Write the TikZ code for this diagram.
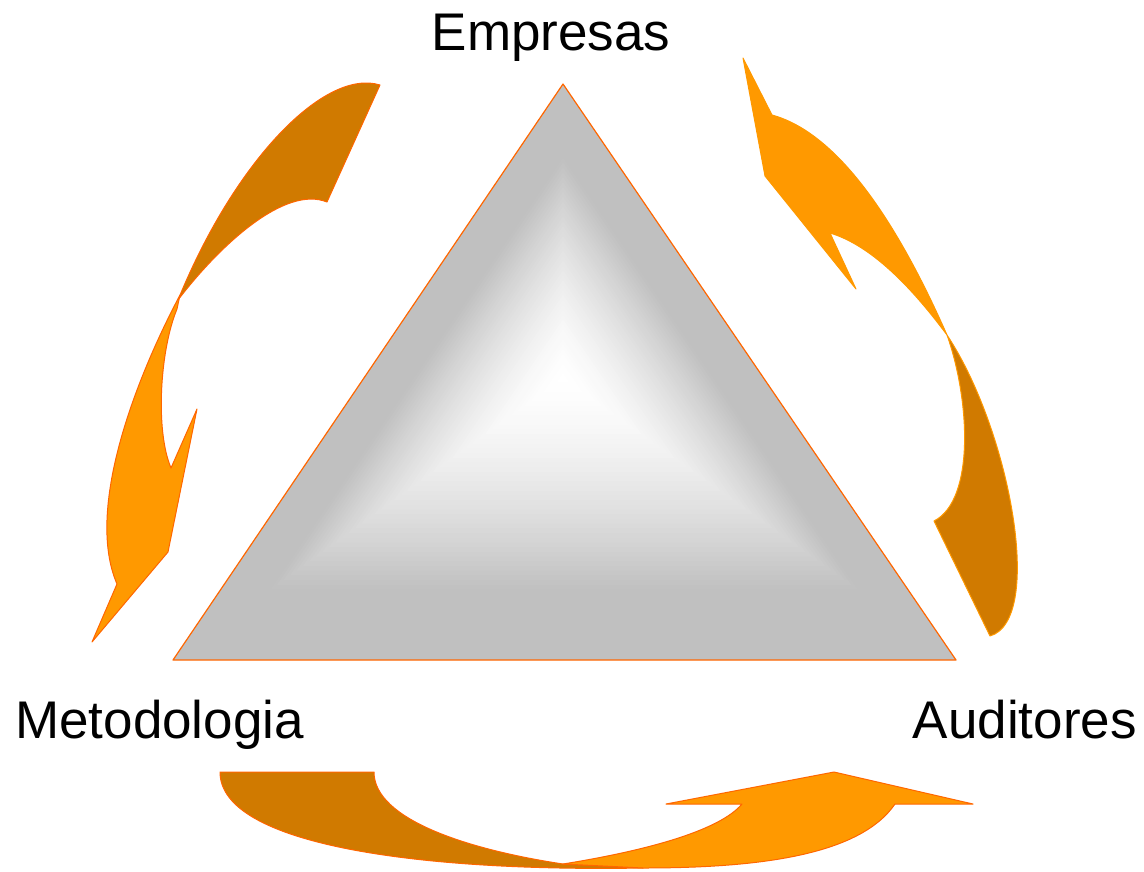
\documentclass[tikz,border=0pt]{standalone}
\usepackage{fontspec}
\setmainfont{Liberation Sans}
\usetikzlibrary{calc}
\definecolor{trig}{RGB}{192,192,192}
\definecolor{edgeor}{RGB}{255,102,0}
\definecolor{lightor}{RGB}{255,153,0}
\definecolor{darkor}{RGB}{208,122,0}
\begin{document}
\begin{tikzpicture}[x=1pt,y=-1pt,
  lbl/.style={font=\fontsize{53}{60}\selectfont, inner sep=0pt},
  arrlight/.style={fill=lightor, draw=edgeor, line width=1pt, line join=round},
  arrdark/.style={fill=darkor, draw=edgeor, line width=1pt, line join=round}]
\useasboundingbox (0,0) rectangle (1144,871);
% triangle vertices
\coordinate (A) at (563,84);
\coordinate (B) at (173,660);
\coordinate (D) at (956,660);
\coordinate (C) at (563,378);
% path-gradient fill
\foreach \i in {60,59,...,1}{
  \pgfmathsetmacro\k{\i/60}
  \pgfmathsetmacro\p{min(100,100*(\k/0.76)^1.5)}
  \fill[trig!\p!white] ($(C)!\k!(A)$) -- ($(C)!\k!(B)$) -- ($(C)!\k!(D)$) -- cycle;
}
\draw[edgeor, line width=1.2pt, line join=round] (A) -- (B) -- (D) -- cycle;
% labels
\node[lbl, anchor=base] (emp) at (551,50) {Empresas};
\node[lbl, anchor=base west] (met) at (15,738) {Metodologia};
\node[lbl, anchor=base east] (aud) at (1137,738) {Auditores};
% left arrow: dark band
\draw[arrdark] (380,85) .. controls (325,68) and (235,160) .. (178,300)
  .. controls (220,245) and (285,185) .. (327,202) -- cycle;
% left arrow: light band
\draw[arrlight] (180,295) .. controls (135,380) and (85,510) .. (117,584)
  -- (92,642) -- (168,552) -- (197,409) -- (171,468)
  .. controls (155,430) and (160,350) .. (177,309) -- cycle;
% right arrow: dark band
\draw[arrdark, draw=lightor] (947,335) .. controls (1010,430) and (1045,620) .. (990,636)
  -- (934,521) .. controls (975,500) and (970,400) .. (947,335) -- cycle;
% right arrow: light band
\draw[arrlight, draw=lightor] (743,58) -- (772,115) .. controls (845,135) and (905,240) .. (947,335)
  .. controls (910,285) and (870,245) .. (830,233) -- (856,289) -- (765,176) -- cycle;
% bottom arrow: dark band
\draw[arrdark] (220,772) -- (374,772) .. controls (374,820) and (470,850) .. (563,864)
  -- (643,868) .. controls (420,872) and (220,845) .. (220,772) -- cycle;
% bottom arrow: light band
\draw[arrlight] (563,864) .. controls (650,850) and (720,830) .. (742,804)
  -- (666,804) -- (834,772) -- (973,804) -- (895,804)
  .. controls (860,855) and (760,868) .. (643,868) -- cycle;
\end{tikzpicture}
\end{document}
